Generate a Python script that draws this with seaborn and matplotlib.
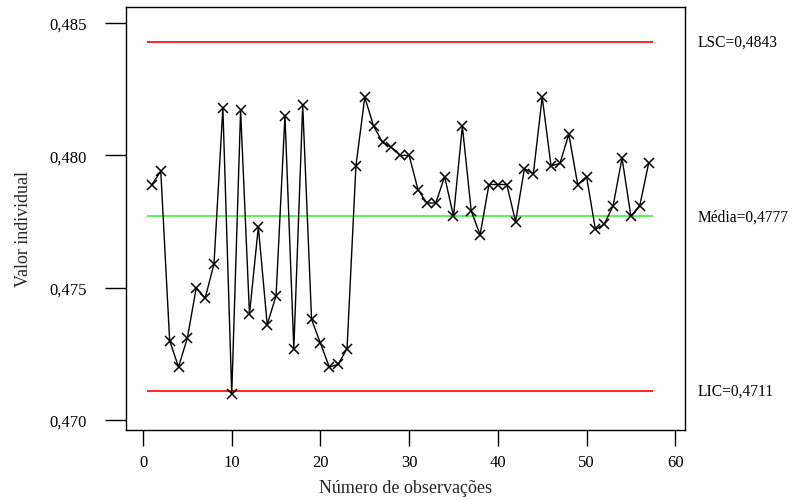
import matplotlib
matplotlib.use("Agg")
import matplotlib.pyplot as plt
import seaborn as sns
import pandas as pd

# Individual observations (I-chart)
observacoes = list(range(1, 58))
valores = [
    0.4789, 0.4794, 0.4730, 0.4720, 0.4731, 0.4750, 0.4746, 0.4759, 0.4818, 0.4710,
    0.4817, 0.4740, 0.4773, 0.4736, 0.4747, 0.4815, 0.4727, 0.4819, 0.4738, 0.4729,
    0.4720, 0.4721, 0.4727, 0.4796, 0.4822, 0.4811, 0.4805, 0.4803, 0.4800, 0.4800,
    0.4787, 0.4782, 0.4782, 0.4792, 0.4777, 0.4811, 0.4779, 0.4770, 0.4789, 0.4789,
    0.4789, 0.4775, 0.4795, 0.4793, 0.4822, 0.4796, 0.4797, 0.4808, 0.4789, 0.4792,
    0.4772, 0.4774, 0.4781, 0.4799, 0.4777, 0.4781, 0.4797,
]

# Control limits
lsc = 0.4843
media = 0.4777
lic = 0.4711
rotulos_limites = ["LSC=0,4843", "Média=0,4777", "LIC=0,4711"]

# Axis ticks
xticks = [0, 10, 20, 30, 40, 50, 60]
yticks = [0.470, 0.475, 0.480, 0.485]
ytick_labels = ["0,470", "0,475", "0,480", "0,485"]

sns.set_style("white")
plt.rcParams["font.family"] = ["Liberation Serif", "DejaVu Serif"]

df = pd.DataFrame({"obs": observacoes, "valor": valores})

fig = plt.figure(figsize=(7.92, 5.02), dpi=100)
ax = fig.add_axes([0.1591, 0.1414, 0.7058, 0.8427])

ax.hlines([lsc, lic], 0.5, 57.5, colors="#ff0000", linewidth=1.2, zorder=1)
ax.hlines([media], 0.5, 57.5, colors="#40f040", linewidth=1.2, zorder=1)

sns.lineplot(data=df, x="obs", y="valor", ax=ax, color="black", linewidth=1.0,
             marker="x", markersize=7.8, markeredgewidth=1.1,
             markeredgecolor="black", zorder=3)

ax.set_xlim(-1.92, 61.1)
ax.set_ylim(0.46962, 0.48561)
ax.set_xticks(xticks)
ax.set_xticklabels([str(t) for t in xticks])
ax.set_yticks(yticks)
ax.set_yticklabels(ytick_labels)

for spine in ax.spines.values():
    spine.set_visible(True)
    spine.set_color("black")
    spine.set_linewidth(1.0)

ax.tick_params(axis="y", direction="out", length=15, width=1.0, pad=13,
               labelsize=12, colors="black", left=True)
ax.tick_params(axis="x", direction="out", length=11.5, width=1.0, pad=6,
               labelsize=12, colors="black", bottom=True)

ax.set_xlabel("Número de observações", fontsize=13, labelpad=6)
ax.set_ylabel("Valor individual", fontsize=13)
ax.yaxis.set_label_coords(-0.168, 0.4775)

trans = ax.get_yaxis_transform()
for y, txt in zip([lsc, media, lic], rotulos_limites):
    ax.text(1.023, y, txt, transform=trans, ha="left", va="center",
            fontsize=11.2, color="black")

fig.savefig("out.png", dpi=100, facecolor="white")
